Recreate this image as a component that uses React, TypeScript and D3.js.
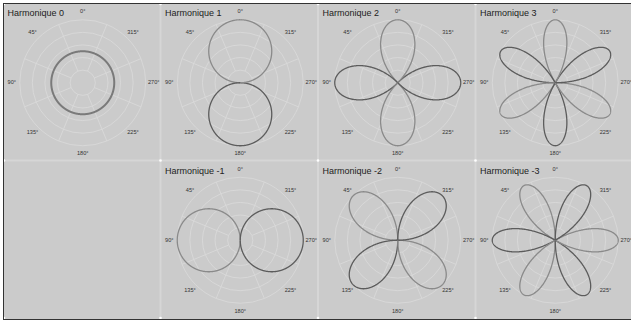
import React from "react";
import * as d3 from "d3";

// harmonics shown, in panel order (null = empty cell)
const panelOrders: (number | null)[] = [0, 1, 2, 3, null, -1, -2, -3];
const panelTitles: (string | null)[] = [
  "Harmonique 0", "Harmonique 1", "Harmonique 2", "Harmonique 3",
  null, "Harmonique -1", "Harmonique -2", "Harmonique -3",
];
const angleLabels = [0, 45, 90, 135, 180, 225, 270, 315];
const spokeAngles = [22.5, 67.5, 112.5, 157.5, 202.5, 247.5, 292.5, 337.5];
const gridLevels = [0.2, 0.4, 0.6, 0.8, 1.0];
const constantRadius = 0.5; // harmonique 0 amplitude

const W = 631;
const H = 324;
const COLS = 4;
const ROWS = 2;

const xBand = d3.scaleBand<number>().domain(d3.range(COLS)).range([4, 634]);
const yBand = d3.scaleBand<number>().domain(d3.range(ROWS)).range([4, 319]);
const rScale = d3.scaleLinear().domain([0, 1]).range([0, 63]);

const posColor = "#8a8a8a";
const negColor = "#5c5c5c";

function harmonic(m: number, t: number) {
  if (m === 0) return constantRadius;
  return m > 0 ? Math.cos(m * t) : Math.sin(-m * t);
}

// split the curve into runs of the same sign
function lobes(m: number) {
  const n = 1440;
  const runs: { sign: number; pts: [number, number][] }[] = [];
  let cur: { sign: number; pts: [number, number][] } | null = null;
  for (let i = 0; i <= n; i++) {
    const t = (i / n) * 2 * Math.PI;
    const v = harmonic(m, t);
    const s = v >= 0 ? 1 : -1;
    if (!cur || cur.sign !== s) {
      if (cur) cur.pts.push([t, 0]);
      cur = { sign: s, pts: [[t, Math.abs(v)]] };
      runs.push(cur);
    } else cur.pts.push([t, Math.abs(v)]);
  }
  return runs;
}

const radial = d3
  .lineRadial<[number, number]>()
  .angle((d) => -d[0])
  .radius((d) => rScale(d[1]));

function Panel({ m, title, col, row }: { m: number; title: string; col: number; row: number }) {
  const x0 = xBand(col)!;
  const y0 = yBand(row)!;
  const cx = x0 + xBand.bandwidth() / 2;
  const cy = y0 + yBand.bandwidth() / 2;
  const labR = 71;
  return (
    <g>
      <g transform={`translate(${cx},${cy})`}>
        {gridLevels.map((g) => (
          <circle key={g} r={rScale(g)} fill="none" stroke="#dadada" strokeWidth={0.8} />
        ))}
        {spokeAngles.map((a) => {
          const r = (a * Math.PI) / 180;
          return (
            <line
              key={a}
              x1={-rScale(gridLevels[0]) * Math.sin(r)}
              y1={-rScale(gridLevels[0]) * Math.cos(r)}
              x2={-rScale(1) * Math.sin(r)}
              y2={-rScale(1) * Math.cos(r)}
              stroke="#dadada"
              strokeWidth={0.8}
            />
          );
        })}
        {angleLabels.map((a) => {
          const r = (a * Math.PI) / 180;
          return (
            <text
              key={a}
              x={-labR * Math.sin(r)}
              y={-labR * Math.cos(r)}
              textAnchor="middle"
              dominantBaseline="middle"
              fontSize={5.6}
              fontFamily="Arial, Liberation Sans, sans-serif"
              fill="#333"
            >
              {a}°
            </text>
          );
        })}
        {lobes(m).map((l, i) => (
          <path
            key={i}
            d={radial(l.pts) ?? ""}
            fill="none"
            stroke={m === 0 ? "#7a7a7a" : l.sign > 0 ? posColor : negColor}
            strokeWidth={m === 0 ? 2 : 1.3}
          />
        ))}
      </g>
      <text
        x={x0 + 3.5}
        y={y0 + 12}
        fontSize={9}
        fontFamily="Arial, Liberation Sans, sans-serif"
        fill="#222"
      >
        {title}
      </text>
    </g>
  );
}

export default function App() {
  const vx = d3.range(1, COLS).map((c) => xBand(c)! - 1);
  const vy = d3.range(1, ROWS).map((r) => yBand(r)! - 1);
  const xs = [4, ...vx];
  const ys = [4, ...vy, 318];
  return (
    <svg
      width={W}
      height={H}
      style={{ position: "fixed", left: 0, top: 0, background: "#fff" }}
    >
      <rect x={3} y={3} width={W} height={316} fill="#cbcbcb" />
      {vx.map((x) => (
        <line key={"v" + x} x1={x} x2={x} y1={4} y2={318} stroke="#d6d6d6" strokeWidth={2} />
      ))}
      {vy.map((y) => (
        <line key={"h" + y} x1={4} x2={W} y1={y} y2={y} stroke="#d6d6d6" strokeWidth={2} />
      ))}
      {panelOrders.map((m, i) =>
        m === null ? null : (
          <Panel key={i} m={m} title={panelTitles[i]!} col={i % COLS} row={Math.floor(i / COLS)} />
        )
      )}
      {xs.flatMap((x) =>
        ys.map((y) => <circle key={x + "-" + y} cx={x} cy={y} r={1.3} fill="#fff" />)
      )}
      <line x1={3.5} x2={3.5} y1={3} y2={319.5} stroke="#333" strokeWidth={1} />
      <line x1={3} x2={W} y1={3.5} y2={3.5} stroke="#333" strokeWidth={1} />
      <line x1={3} x2={W} y1={319.5} y2={319.5} stroke="#333" strokeWidth={1} />
    </svg>
  );
}
